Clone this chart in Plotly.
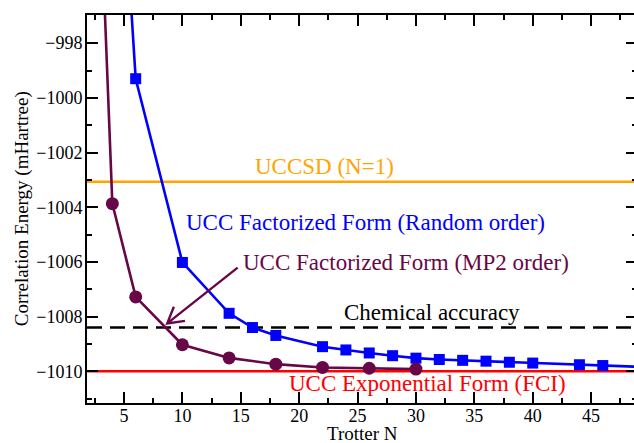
import plotly.graph_objects as go

# ---- data ----
mp2_N = [2, 4, 6, 10, 14, 18, 22, 26, 30]
mp2_E = [-982.0, -1003.87, -1007.28, -1009.03, -1009.51, -1009.74, -1009.86, -1009.89, -1009.92]

rand_N = [4, 6, 10, 14, 16, 18, 22, 24, 26, 28, 30, 32, 34, 36, 38, 40, 44, 46, 50]
rand_E = [-985.8, -999.30, -1006.02, -1007.88, -1008.40, -1008.69, -1009.10, -1009.22, -1009.33,
          -1009.43, -1009.52, -1009.57, -1009.60, -1009.63, -1009.67, -1009.70, -1009.76,
          -1009.79, -1009.85]

uccsd_E = -1003.07
fci_E = -1010.0
chem_acc_E = -1008.4

x_range = [1.83, 48.93]
y_range = [-1011.16, -996.97]

FONT = "'Liberation Serif', 'Times New Roman', serif"
BLUE = "#0000ff"
MAROON = "#670748"
ORANGE = "#ffa500"
RED = "#ff0000"

fig = go.Figure()

fig.add_trace(go.Scatter(x=rand_N, y=rand_E, mode="lines+markers",
                         line=dict(color=BLUE, width=2.6),
                         marker=dict(symbol="square", size=11, color=BLUE),
                         showlegend=False))
fig.add_trace(go.Scatter(x=mp2_N, y=mp2_E, mode="lines+markers",
                         line=dict(color=MAROON, width=2.6),
                         marker=dict(symbol="circle", size=13, color=MAROON),
                         showlegend=False))

# reference lines
fig.add_shape(type="line", xref="paper", x0=0, x1=1, yref="y", y0=uccsd_E, y1=uccsd_E,
              line=dict(color=ORANGE, width=2.6), layer="below")
fig.add_shape(type="line", xref="paper", x0=0, x1=1, yref="y", y0=fci_E, y1=fci_E,
              line=dict(color=RED, width=2.6), layer="below")
fig.add_shape(type="line", xref="paper", x0=0, x1=1, yref="y", y0=chem_acc_E, y1=chem_acc_E,
              line=dict(color="black", width=2.6, dash="15px,8px"), layer="below")

# arrow (open V head)
tail = (14.73, -1006.21)
tip = (8.70, -1008.25)
b1 = (10.22, -1008.155)
b2 = (9.27, -1007.64)
fig.add_shape(type="path", xref="x", yref="y",
              path=f"M {tail[0]} {tail[1]} L {tip[0]} {tip[1]} M {b1[0]} {b1[1]} L {tip[0]} {tip[1]} L {b2[0]} {b2[1]}",
              line=dict(color=MAROON, width=2.4))

def label(text, x, y, color):
    fig.add_annotation(text=text, x=x, y=y, xref="x", yref="y", showarrow=False,
                       font=dict(family=FONT, size=23, color=color),
                       xanchor="center", yanchor="middle")

label("UCCSD (N=1)", 22.19, -1002.5, ORANGE)
label("UCC Factorized Form (Random order)", 25.65, -1004.57, BLUE)
label("UCC Factorized Form (MP2 order)", 29.19, -1006.02, MAROON)
label("Chemical accuracy", 31.34, -1007.85, "black")
label("UCC Exponential Form (FCI)", 30.95, -1010.46, RED)

# axis titles
fig.add_annotation(text="Trotter N", xref="paper", yref="paper", x=0.5, y=-0.079,
                   showarrow=False, xanchor="center", yanchor="middle",
                   font=dict(family=FONT, size=19, color="black"))
fig.add_annotation(text="Correlation Energy (mHartree)", xref="paper", yref="paper",
                   x=-0.1178, y=0.5, textangle=-90, showarrow=False,
                   xanchor="center", yanchor="middle",
                   font=dict(family=FONT, size=19, color="black"))

axis_common = dict(showgrid=False, zeroline=False, showline=True, linecolor="black",
                   linewidth=2, mirror="ticks", ticks="inside", ticklen=11, tickwidth=2,
                   tickcolor="black", tickfont=dict(family=FONT, size=18, color="black"))

fig.update_xaxes(range=x_range, dtick=5, tick0=0, ticklabelstandoff=-5,
                 minor=dict(dtick=2.5, ticks="inside", ticklen=5, tickwidth=2, tickcolor="black"),
                 **axis_common)
fig.update_yaxes(range=y_range, dtick=2, tick0=0, ticklabelstandoff=-1,
                 minor=dict(dtick=1, ticks="inside", ticklen=5, tickwidth=2, tickcolor="black"),
                 **axis_common)

fig.update_layout(width=639, height=443, margin=dict(l=87, r=0, t=15, b=40),
                  paper_bgcolor="white", plot_bgcolor="white", showlegend=False)

fig.write_html("out.html", config={"displayModeBar": False},
               post_script="document.documentElement.style.overflow='hidden';document.body.style.margin='0';document.body.style.overflow='hidden';")
